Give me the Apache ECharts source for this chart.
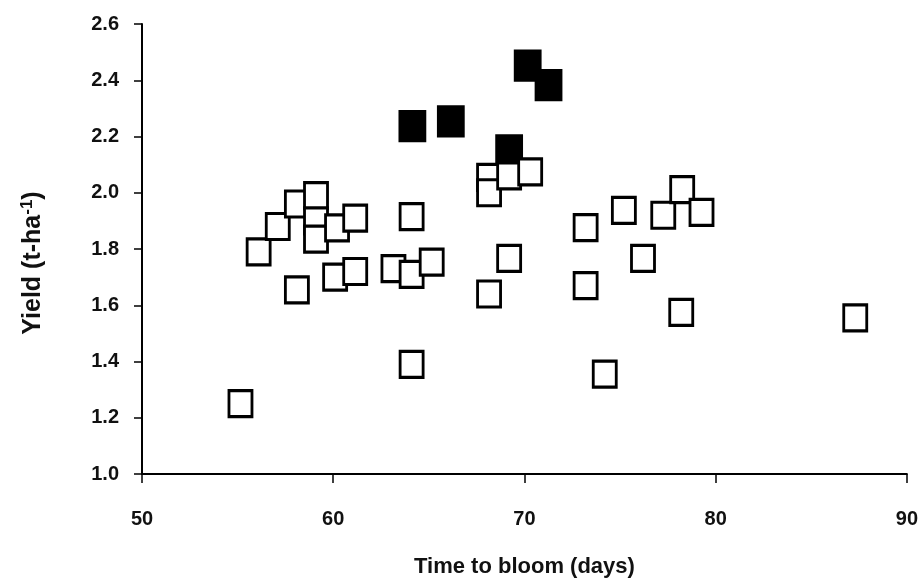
<!DOCTYPE html>
<html>
<head>
<meta charset="utf-8">
<script src="https://cdn.jsdelivr.net/npm/echarts@6/dist/echarts.min.js"></script>
<style>
html, body { margin: 0; padding: 0; background: #fff; }
#chart { width: 921px; height: 586px; }
</style>
</head>
<body>
<div id="chart"></div>
<script>
// open squares: [time to bloom, yield]
var openDays = [55.15, 56.1, 57.1, 58.1, 58.1, 59.1, 59.1, 59.1, 60.2, 60.1, 61.15, 61.15,
                63.15, 64.1, 64.1, 64.1, 65.15, 68.15, 68.15, 68.15, 69.2, 69.2, 70.3,
                73.2, 73.2, 74.2, 75.2, 76.2, 77.26, 78.25, 78.2, 79.26, 87.3];
var openYield = [1.25, 1.79, 1.88, 1.96, 1.655, 1.99, 1.90, 1.835, 1.875, 1.70, 1.91, 1.72,
                 1.73, 1.71, 1.915, 1.39, 1.753, 2.055, 2.0, 1.64, 2.06, 1.767, 2.074,
                 1.876, 1.67, 1.355, 1.937, 1.767, 1.92, 2.011, 1.575, 1.93, 1.555];
// filled squares
var filledDays = [64.14, 66.15, 69.2, 70.17, 71.26];
var filledYield = [2.237, 2.254, 2.151, 2.452, 2.383];

function pairs(xs, ys) {
    var out = [];
    for (var i = 0; i < xs.length; i++) {
        out.push([xs[i], ys[i]]);
    }
    return out;
}

var fontName = "'Liberation Sans', Arial, sans-serif";
var myChart = echarts.init(document.getElementById('chart'));

var option = {
    backgroundColor: '#fff',
    animation: false,
    grid: { left: 142, right: 14, top: 24, bottom: 112 },
    xAxis: {
        type: 'value',
        min: 50,
        max: 90,
        interval: 10,
        name: 'Time to bloom (days)',
        nameLocation: 'middle',
        nameGap: 82,
        nameTextStyle: { fontFamily: fontName, fontWeight: 'bold', fontSize: 22, color: '#111' },
        axisLine: { onZero: false, lineStyle: { color: '#000', width: 2 } },
        axisTick: { length: 9, lineStyle: { color: '#000', width: 1.5 } },
        axisLabel: { margin: 35, fontFamily: fontName, fontWeight: 'bold', fontSize: 20, color: '#111' },
        splitLine: { show: false }
    },
    yAxis: {
        type: 'value',
        min: 1.0,
        max: 2.6,
        interval: 0.2,
        axisLine: { show: true, onZero: false, lineStyle: { color: '#000', width: 2 } },
        axisTick: { show: true, length: 8, lineStyle: { color: '#000', width: 1.5 } },
        axisLabel: {
            margin: 23,
            fontFamily: fontName, fontWeight: 'bold', fontSize: 20, color: '#111',
            formatter: function (v) { return v.toFixed(1); }
        },
        splitLine: { show: false }
    },
    graphic: [{
        type: 'text',
        x: 33,
        y: 263,
        rotation: Math.PI / 2,
        style: {
            text: 'Yield (t-ha{sup|-1})',
            align: 'center',
            verticalAlign: 'middle',
            fontFamily: fontName,
            fontWeight: 'bold',
            fontSize: 25,
            fill: '#111',
            rich: {
                sup: { fontFamily: fontName, fontWeight: 'bold', fontSize: 17, verticalAlign: 'top', padding: [0, 0, 12, 0], fill: '#111' }
            }
        }
    }],
    series: [{
        name: 'filled',
        type: 'scatter',
        symbol: 'rect',
        symbolSize: [25, 29],
        itemStyle: { color: '#000', borderColor: '#000', borderWidth: 3, opacity: 1 },
        data: pairs(filledDays, filledYield)
    }, {
        name: 'open',
        type: 'scatter',
        symbol: 'rect',
        symbolSize: [23, 26],
        itemStyle: { color: '#fff', borderColor: '#000', borderWidth: 3, opacity: 1 },
        data: pairs(openDays, openYield)
    }]
};

myChart.setOption(option);
</script>
</body>
</html>
